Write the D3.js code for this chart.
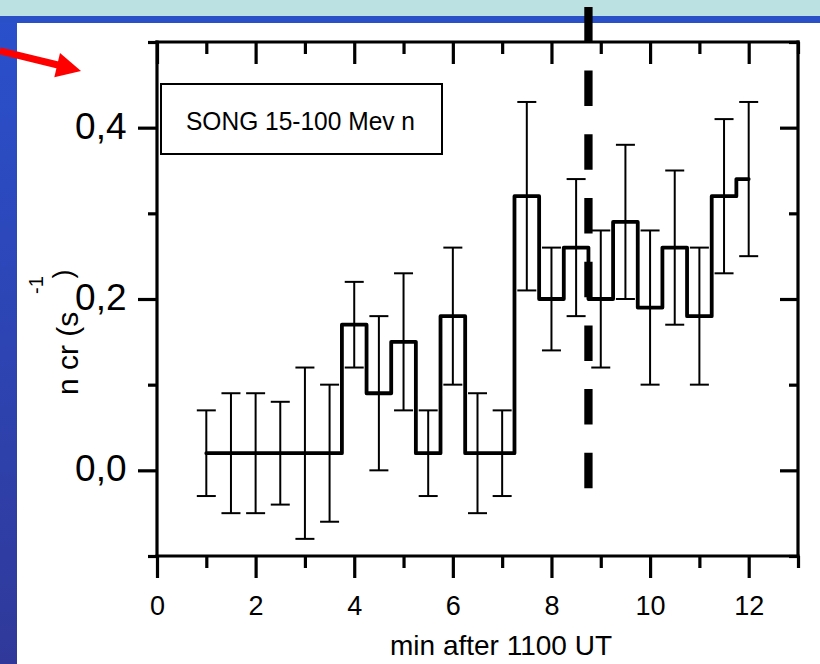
<!DOCTYPE html>
<html>
<head>
<meta charset="utf-8">
<script src="https://cdn.jsdelivr.net/npm/d3@7"></script>
<style>
  html, body { margin: 0; padding: 0; background: #ffffff; }
  svg { display: block; }
  text { font-family: "Liberation Sans", Arial, Helvetica, sans-serif; fill: #000; }
</style>
</head>
<body>
<svg id="chart" width="820" height="664"></svg>
<script>
// ---- data ----
const minutes = [1, 1.5, 2, 2.5, 3, 3.5, 4, 4.5, 5, 5.5, 6, 6.5, 7, 7.5, 8, 8.5, 9, 9.5, 10, 10.5, 11, 11.5, 12];
const rates   = [0.02, 0.02, 0.02, 0.02, 0.02, 0.02, 0.17, 0.09, 0.15, 0.02, 0.18, 0.02, 0.02, 0.32, 0.20, 0.26, 0.20, 0.29, 0.19, 0.26, 0.18, 0.32, 0.34];
const errors  = [0.05, 0.07, 0.07, 0.06, 0.10, 0.08, 0.05, 0.09, 0.08, 0.05, 0.08, 0.07, 0.05, 0.11, 0.06, 0.08, 0.08, 0.09, 0.09, 0.09, 0.08, 0.09, 0.09];
const xMajorTicks = [0, 2, 4, 6, 8, 10, 12];
const xMinorTicks = [1, 3, 5, 7, 9, 11, 13];
const yMajorTicks = [0, 0.2, 0.4];
const yMinorTicks = [-0.1, 0.1, 0.3, 0.5];
const xDomain = [0, 13];
const yDomain = [-0.1, 0.5];
const markerMinute = 8.75;
const markerSpan = [-0.022, 0.541];
const legendText = "SONG 15-100 Mev n";
const xTitle = "min after 1100 UT";
const yTitleMain = "n cr (s";
const yTitleSup = "-1";
const yTitleEnd = ")";

const svg = d3.select("#chart");
const W = 820, H = 664;

// ---- slide background ----
const defs = svg.append("defs");
const grad = defs.append("linearGradient").attr("id", "leftStrip")
  .attr("x1", 0).attr("y1", 0).attr("x2", 0).attr("y2", 1);
grad.append("stop").attr("offset", "0%").attr("stop-color", "#2a50cc");
grad.append("stop").attr("offset", "100%").attr("stop-color", "#30399a");

svg.append("rect").attr("x", 0).attr("y", 0).attr("width", W).attr("height", H).attr("fill", "#ffffff");
svg.append("rect").attr("x", 0).attr("y", 0).attr("width", W).attr("height", 16).attr("fill", "#bce1e3");
svg.append("rect").attr("x", 0).attr("y", 16).attr("width", 17).attr("height", H - 16).attr("fill", "url(#leftStrip)");
svg.append("rect").attr("x", 0).attr("y", 16).attr("width", W).attr("height", 7).attr("fill", "#2a50c8");

// ---- scales ----
const x = d3.scaleLinear().domain(xDomain).range([157, 798]);
const y = d3.scaleLinear().domain(yDomain).range([556, 42]);

const axisStroke = 3.2;
function styleAxis(g) {
  g.select(".domain").remove();
  g.selectAll(".tick line").attr("stroke", "#000").attr("stroke-width", axisStroke);
}

// frame lines
const frame = svg.append("g");
frame.append("line").attr("x1", x(0)).attr("x2", x(13)).attr("y1", y(-0.1)).attr("y2", y(-0.1));
frame.append("line").attr("x1", x(0)).attr("x2", x(13)).attr("y1", y(0.5)).attr("y2", y(0.5));
frame.append("line").attr("x1", x(0)).attr("x2", x(0)).attr("y1", y(-0.1)).attr("y2", y(0.5));
frame.append("line").attr("x1", x(13)).attr("x2", x(13)).attr("y1", y(-0.1)).attr("y2", y(0.5));
frame.selectAll("line").attr("stroke", "#000").attr("stroke-width", axisStroke).attr("stroke-linecap", "square");

// bottom axis
const gBottom = svg.append("g").attr("transform", `translate(0,${y(-0.1)})`)
  .call(d3.axisBottom(x).tickValues(xMajorTicks).tickSize(22).tickSizeOuter(0).tickFormat(d3.format("d")));
styleAxis(gBottom);
gBottom.selectAll(".tick text").attr("y", 59).attr("dy", 0)
  .style("font-size", "27px").style("font-family", '"Liberation Sans", Arial, sans-serif').attr("fill", "#000");
const gBottomMinor = svg.append("g").attr("transform", `translate(0,${y(-0.1)})`)
  .call(d3.axisBottom(x).tickValues(xMinorTicks).tickSize(12).tickSizeOuter(0).tickFormat(""));
styleAxis(gBottomMinor);

// top axis (ticks inward)
const gTop = svg.append("g").attr("transform", `translate(0,${y(0.5)})`)
  .call(d3.axisBottom(x).tickValues(xMajorTicks).tickSize(22).tickSizeOuter(0).tickFormat(""));
styleAxis(gTop);
const gTopMinor = svg.append("g").attr("transform", `translate(0,${y(0.5)})`)
  .call(d3.axisBottom(x).tickValues(xMinorTicks).tickSize(12).tickSizeOuter(0).tickFormat(""));
styleAxis(gTopMinor);

// left axis
const commaFmt = d => d3.format(".1f")(d).replace(".", ",");
const gLeft = svg.append("g").attr("transform", `translate(${x(0)},0)`)
  .call(d3.axisLeft(y).tickValues(yMajorTicks).tickSize(19).tickSizeOuter(0).tickFormat(commaFmt));
styleAxis(gLeft);
gLeft.selectAll(".tick text").attr("x", -30.5).attr("dy", 0).attr("y", 10.5)
  .style("font-size", "37px").style("font-family", '"Liberation Sans", Arial, sans-serif').attr("fill", "#000");
const gLeftMinor = svg.append("g").attr("transform", `translate(${x(0)},0)`)
  .call(d3.axisLeft(y).tickValues(yMinorTicks).tickSize(9).tickSizeOuter(0).tickFormat(""));
styleAxis(gLeftMinor);

// right axis (ticks inward)
const gRight = svg.append("g").attr("transform", `translate(${x(13)},0)`)
  .call(d3.axisLeft(y).tickValues(yMajorTicks).tickSize(18).tickSizeOuter(0).tickFormat(""));
styleAxis(gRight);
const gRightMinor = svg.append("g").attr("transform", `translate(${x(13)},0)`)
  .call(d3.axisLeft(y).tickValues(yMinorTicks).tickSize(9).tickSizeOuter(0).tickFormat(""));
styleAxis(gRightMinor);

// ---- legend box ----
svg.append("rect").attr("x", 161).attr("y", 84).attr("width", 281).attr("height", 70)
  .attr("fill", "#fff").attr("stroke", "#000").attr("stroke-width", 2);
svg.append("text").attr("x", 186).attr("y", 129.5)
  .attr("textLength", 229).attr("lengthAdjust", "spacingAndGlyphs")
  .style("font-size", "26px").text(legendText);

// ---- data marks ----
const pts = minutes.map((m, i) => ({ m, r: rates[i], e: errors[i] }));

const eb = svg.append("g").attr("stroke", "#000").attr("stroke-width", 2).attr("fill", "none");
eb.selectAll("line.v").data(pts).join("line").attr("class", "v")
  .attr("x1", d => x(d.m)).attr("x2", d => x(d.m))
  .attr("y1", d => y(d.r - d.e)).attr("y2", d => y(d.r + d.e));
eb.selectAll("line.t").data(pts).join("line").attr("class", "t")
  .attr("x1", d => x(d.m) - 9.5).attr("x2", d => x(d.m) + 9.5)
  .attr("y1", d => y(d.r + d.e)).attr("y2", d => y(d.r + d.e));
eb.selectAll("line.b").data(pts).join("line").attr("class", "b")
  .attr("x1", d => x(d.m) - 9.5).attr("x2", d => x(d.m) + 9.5)
  .attr("y1", d => y(d.r - d.e)).attr("y2", d => y(d.r - d.e));

const stepLine = d3.line().x(d => x(d.m)).y(d => y(d.r)).curve(d3.curveStep);
svg.append("path").datum(pts).attr("d", stepLine)
  .attr("fill", "none").attr("stroke", "#000").attr("stroke-width", 3.8)
  .attr("stroke-linejoin", "round").attr("stroke-linecap", "round");

// ---- dashed marker line ----
svg.append("line")
  .attr("x1", x(markerMinute)).attr("x2", x(markerMinute))
  .attr("y1", y(markerSpan[1])).attr("y2", y(markerSpan[0]))
  .attr("stroke", "#000").attr("stroke-width", 8.3).attr("stroke-dasharray", "35.5,28.2");

// ---- axis titles ----
svg.append("text").attr("x", 390).attr("y", 655).style("font-size", "28px").text(xTitle);

const yt = svg.append("g").attr("transform", "translate(78,395) rotate(-90)");
yt.append("text").attr("x", 0).attr("y", 0).style("font-size", "30px").text(yTitleMain);
yt.append("text").attr("x", 101).attr("y", -35).style("font-size", "20px").text(yTitleSup);
yt.append("text").attr("x", 116.5).attr("y", -5.6).style("font-size", "27px").text(yTitleEnd);

// ---- red arrow annotation ----
svg.append("line").attr("x1", 0).attr("y1", 51).attr("x2", 62).attr("y2", 66)
  .attr("stroke", "#ff0000").attr("stroke-width", 7);
svg.append("path").attr("d", "M81,71 L60,53 L54.3,77.3 Z").attr("fill", "#ff0000");
</script>
</body>
</html>
